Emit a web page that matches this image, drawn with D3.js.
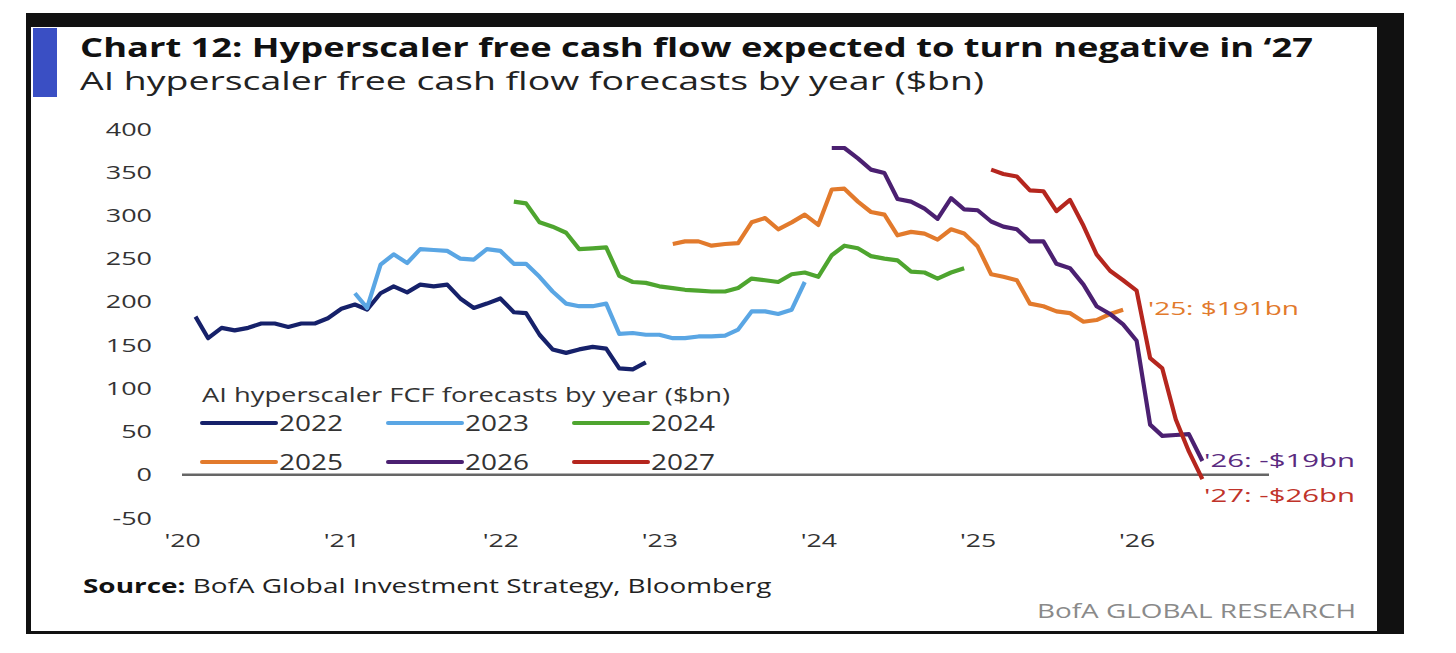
<!DOCTYPE html>
<html lang="en">

<head>
  <meta charset="utf-8">
  <title>Hyperscaler FCF</title>
  <script src="https://cdn.jsdelivr.net/npm/d3@7"></script>
  <style>
    body { margin: 0; background: #fff; }
    svg text { font-family: 'Open Sans', 'Noto Sans', sans-serif; }
  </style>
</head>

<body>
  <script>
    // data (monthly forecasts, $bn)
    const forecastYears = ["2022", "2023", "2024", "2025", "2026", "2027"];
    const firstMonths = ["2020-02", "2021-02", "2022-02", "2023-02", "2024-02", "2025-02"];
    const fcf2022 = [183, 158, 170, 167, 170, 175, 175, 171, 175, 175, 181, 192, 197, 191, 210, 218, 211, 220,
      218, 220, 204, 193, 198, 204, 188, 187, 162, 145, 141, 145, 148, 146, 123, 122, 130];
    const fcf2023 = [210, 193, 243, 255, 245, 261, 260, 259, 250, 249, 261, 259, 244, 244, 229, 212, 198, 195,
      195, 198, 163, 164, 162, 162, 158, 158, 160, 160, 161, 168, 189, 189, 186, 191, 223];
    const fcf2024 = [316, 314, 292, 287, 280, 261, 262, 263, 230, 223, 222, 218, 216, 214, 213, 212, 212, 216,
      227, 225, 223, 232, 234, 229, 254, 265, 262, 253, 250, 248, 235, 234, 227, 234, 239];
    const fcf2025 = [267, 270, 270, 265, 267, 268, 292, 297, 284, 292, 301, 289, 330, 331, 316, 304, 301, 277,
      281, 279, 272, 284, 279, 264, 232, 229, 225, 198, 195, 189, 187, 177, 179, 186, 191];
    const fcf2026 = [378, 378, 366, 353, 349, 319, 316, 308, 296, 320, 307, 306, 293, 287, 284, 270, 270, 244,
      239, 220, 195, 186, 174, 155, 58, 45, 46, 47, 16];
    const fcf2027 = [353, 348, 345, 329, 328, 305, 318, 288, 255, 236, 225, 213, 135, 123, 64, 27, -5];
    const allSeries = [fcf2022, fcf2023, fcf2024, fcf2025, fcf2026, fcf2027];
    const yTicks = [-50, 0, 50, 100, 150, 200, 250, 300, 350, 400];
    const endLabels = [
      { year: "2025", text: "'25: $191bn" },
      { year: "2026", text: "'26: -$19bn" },
      { year: "2027", text: "'27: -$26bn" }
    ];

    //config
    const width = 1456, height = 653;
    const colors = ["#16216a", "#5aa6e4", "#4ea52f", "#e27a2c", "#4b2071", "#b5261e"];
    const labelColors = { "2025": "#e27a2c", "2026": "#5a2a80", "2027": "#c0332a" };
    const labelPos = { "2025": [1148, 315], "2026": [1204, 467], "2027": [1204, 502] };
    const font = "'Open Sans', 'Noto Sans', sans-serif";

    const parseMonth = d3.timeParse("%Y-%m");
    const series = forecastYears.map((yr, i) => {
      const start = parseMonth(firstMonths[i]);
      return {
        year: yr,
        color: colors[i],
        values: allSeries[i].map((v, j) => ({ date: d3.timeMonth.offset(start, j), value: v }))
      };
    });

    const x = d3.scaleTime()
      .domain([new Date(2020, 0, 1), new Date(2026, 10, 1)])
      .range([182, 1269]);
    const y = d3.scaleLinear().domain([-50, 400]).range([518, 129]);

    const svg = d3.select("body").append("svg")
      .attr("width", width).attr("height", height);

    // frame
    svg.append("rect").attr("x", 26).attr("y", 13).attr("width", 1378).attr("height", 621)
      .attr("fill", "#111");
    svg.append("rect").attr("x", 31).attr("y", 27).attr("width", 1346).attr("height", 604)
      .attr("fill", "#fff");
    svg.append("rect").attr("x", 33).attr("y", 28).attr("width", 24).attr("height", 69)
      .attr("fill", "#3a4fc4");

    // the reference glyphs are wider than Open Sans: stretch text horizontally
    function stretchTo(sel, w) {
      sel.attr("textLength", w).attr("lengthAdjust", "spacingAndGlyphs");
    }
    function stretchBy(sel, k) {
      sel.each(function () {
        d3.select(this).attr("textLength", this.getComputedTextLength() * k)
          .attr("lengthAdjust", "spacingAndGlyphs");
      });
    }

    const title = svg.append("text").attr("x", 80).attr("y", 57)
      .attr("font-size", 27.5).attr("font-weight", 700).attr("fill", "#111")
      .text("Chart 12: Hyperscaler free cash flow expected to turn negative in \u201827");
    stretchTo(title, 1233);
    const subtitle = svg.append("text").attr("x", 80).attr("y", 90)
      .attr("font-size", 25.5).attr("fill", "#222")
      .text("AI hyperscaler free cash flow forecasts by year ($bn)");
    stretchTo(subtitle, 904);

    // axes
    const yAxis = svg.append("g").attr("transform", "translate(182,0)")
      .call(d3.axisLeft(y).tickValues(yTicks).tickFormat(d => String(d)).tickSize(0).tickPadding(30));
    yAxis.select(".domain").remove();
    yAxis.selectAll("text").attr("font-size", 19).attr("fill", "#333").style("font-family", font)
      .call(stretchBy, 1.42);

    const xAxis = svg.append("g").attr("transform", "translate(0,518)")
      .call(d3.axisBottom(x).ticks(d3.timeYear.every(1)).tickFormat(d3.timeFormat("'%y"))
        .tickSize(0).tickPadding(16));
    xAxis.select(".domain").remove();
    xAxis.selectAll("text").attr("font-size", 19).attr("fill", "#333").style("font-family", font)
      .call(stretchBy, 1.4);

    // zero line
    svg.append("line")
      .attr("x1", x.range()[0]).attr("x2", x.range()[1])
      .attr("y1", y(0)).attr("y2", y(0))
      .attr("stroke", "#666").attr("stroke-width", 2.5);

    // lines
    const line = d3.line().x(d => x(d.date)).y(d => y(d.value));
    svg.append("g").selectAll("path").data(series).join("path")
      .attr("d", d => line(d.values))
      .attr("fill", "none")
      .attr("stroke", d => d.color)
      .attr("stroke-width", 4.2)
      .attr("stroke-linejoin", "round");

    // end labels
    svg.append("g").selectAll("text").data(endLabels).join("text")
      .attr("x", d => labelPos[d.year][0])
      .attr("y", d => labelPos[d.year][1])
      .attr("font-size", 19)
      .attr("fill", d => labelColors[d.year])
      .text(d => d.text)
      .call(stretchTo, 151);

    // legend
    const legendTitle = svg.append("text").attr("x", 202).attr("y", 402)
      .attr("font-size", 20).attr("fill", "#333")
      .text("AI hyperscaler FCF forecasts by year ($bn)");
    stretchTo(legendTitle, 528);
    const legend = svg.append("g").selectAll("g").data(series).join("g")
      .attr("transform", (d, i) => `translate(${202 + (i % 3) * 186},${i < 3 ? 423 : 462})`);
    legend.append("line").attr("x1", 0).attr("x2", 74)
      .attr("stroke", d => d.color).attr("stroke-width", 4).attr("stroke-linecap", "round");
    legend.append("text").attr("x", 77).attr("y", 7.5)
      .attr("font-size", 21).attr("fill", "#333")
      .text(d => d.year)
      .call(stretchTo, 64);

    // source
    const source = svg.append("text")
      .attr("font-size", 20).attr("fill", "#222");
    source.append("tspan").attr("font-weight", 700).attr("fill", "#111").text("Source:");
    source.append("tspan").text(" BofA Global Investment Strategy, Bloomberg");
    const k = 689 / source.node().getComputedTextLength();
    source.attr("transform", `translate(83,593) scale(${k},1)`);

    const brand = svg.append("text").attr("x", 1356).attr("y", 618)
      .attr("text-anchor", "end").attr("font-size", 20).attr("fill", "#8a8a8a")
      .text("BofA GLOBAL RESEARCH");
    stretchTo(brand, 319);
  </script>
</body>

</html>
